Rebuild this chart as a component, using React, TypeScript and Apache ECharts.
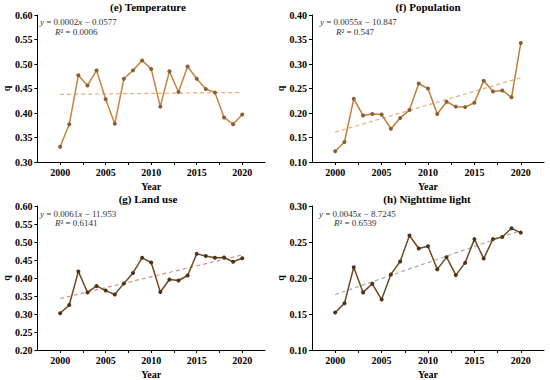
import React, { useEffect, useRef } from "react";
import * as echarts from "echarts";

const years = [2000, 2001, 2002, 2003, 2004, 2005, 2006, 2007, 2008, 2009, 2010, 2011, 2012, 2013, 2014, 2015, 2016, 2017, 2018, 2019, 2020];
const tempQ = [0.331, 0.377, 0.477, 0.456, 0.487, 0.428, 0.378, 0.470, 0.487, 0.507, 0.490, 0.413, 0.485, 0.443, 0.495, 0.470, 0.449, 0.442, 0.391, 0.377, 0.397];
const popQ = [0.122, 0.141, 0.229, 0.195, 0.198, 0.197, 0.168, 0.190, 0.206, 0.260, 0.250, 0.198, 0.223, 0.213, 0.212, 0.221, 0.266, 0.244, 0.246, 0.232, 0.343];
const landQ = [0.302, 0.325, 0.418, 0.360, 0.378, 0.365, 0.354, 0.385, 0.414, 0.456, 0.443, 0.361, 0.396, 0.393, 0.407, 0.467, 0.461, 0.456, 0.457, 0.445, 0.455];
const lightQ = [0.152, 0.165, 0.215, 0.180, 0.192, 0.170, 0.205, 0.223, 0.259, 0.241, 0.244, 0.212, 0.229, 0.204, 0.221, 0.254, 0.227, 0.254, 0.257, 0.269, 0.263];

const trendYears = [2000, 2020];
const tempTrend = [0.438, 0.442];
const popTrend = [0.161, 0.272];
const landTrend = [0.343, 0.464];
const lightTrend = [0.177, 0.266];

const titles = ["(e) Temperature", "(f) Population", "(g) Land use", "(h) Nighttime light"];
const equations = ["{i|y} = 0.0002{i|x} \u2212 0.0577", "{i|y} = 0.0055{i|x} \u2212 10.847", "{i|y} = 0.0061{i|x} \u2212 11.953", "{i|y} = 0.0045{i|x} \u2212 8.7245"];
const r2Texts = ["{i|R}\u00b2 = 0.0006", "{i|R}\u00b2 = 0.547", "{i|R}\u00b2 = 0.6141", "{i|R}\u00b2 = 0.6539"];
const yMins = [0.3, 0.1, 0.2, 0.1];
const yMaxs = [0.6, 0.4, 0.6, 0.3];

const FONT = "'Liberation Serif', 'Times New Roman', serif";

export default function App() {
  const ref = useRef<HTMLDivElement>(null);
  useEffect(() => {
    if (!ref.current) return;
    const chart = echarts.init(ref.current, undefined, { renderer: "svg" });

    const grids = [
      { left: 33, top: 15, width: 232, height: 147 },
      { left: 312, top: 15, width: 232, height: 147 },
      { left: 33, top: 206, width: 232, height: 148 },
      { left: 312, top: 206, width: 232, height: 147 },
    ];
    const series = [tempQ, popQ, landQ, lightQ];
    const trends = [tempTrend, popTrend, landTrend, lightTrend];
    const lineColors = ["#c4843f", "#c07d3a", "#6e4a22", "#6e4a22"];
    const markerColors = ["#8b5e34", "#8b5e34", "#4f3216", "#4f3216"];
    const trendColors = ["#e8ac7a", "#e8ac7a", "#d99088", "#a8a8a8"];

    const axisLabel = { fontFamily: FONT, fontWeight: "bold", fontSize: 10, color: "#000" };
    const axisLine = { lineStyle: { color: "#000", width: 1 } };

    const xAxis = grids.map((_, i) => ({
      type: "value",
      gridIndex: i,
      min: 1997.5,
      max: 2022.5,
      interval: 2.5,
      name: "Year",
      nameLocation: "middle",
      nameGap: 19,
      nameTextStyle: { fontFamily: FONT, fontWeight: "bold", fontSize: 10, color: "#000" },
      axisLine,
      axisTick: { show: true, inside: false, length: 3, lineStyle: { color: "#000" } },
      axisLabel: {
        ...axisLabel,
        margin: 5,
        showMinLabel: false,
        showMaxLabel: false,
        formatter: (v: number) => (v % 5 === 0 ? String(v) : ""),
      },
      splitLine: { show: false },
    }));

    const yAxis = grids.map((_, i) => ({
      type: "value",
      gridIndex: i,
      min: yMins[i],
      max: yMaxs[i],
      interval: 0.05,
      name: "q",
      nameLocation: "middle",
      nameGap: 25,
      nameTextStyle: { fontFamily: FONT, fontWeight: "bold", fontSize: 10, color: "#000" },
      axisLine: { show: true, ...axisLine },
      axisTick: { show: true, inside: false, length: 3, lineStyle: { color: "#000" } },
      axisLabel: { ...axisLabel, margin: 5, formatter: (v: number) => v.toFixed(2) },
      splitLine: { show: false },
    }));

    const allSeries: any[] = [];
    series.forEach((vals, i) => {
      allSeries.push({
        type: "line",
        xAxisIndex: i,
        yAxisIndex: i,
        data: trendYears.map((y, k) => [y, trends[i][k]]),
        symbol: "none",
        lineStyle: { color: trendColors[i], width: 1.2, type: [4, 3] },
        z: 1,
      });
      allSeries.push({
        type: "line",
        xAxisIndex: i,
        yAxisIndex: i,
        data: years.map((y, k) => [y, vals[k]]),
        symbol: "circle",
        symbolSize: 4,
        lineStyle: { color: lineColors[i], width: 1.5 },
        itemStyle: { color: markerColors[i] },
        z: 2,
      });
    });

    const graphic: any[] = [];
    const titlePos = [
      [148, 7],
      [428, 7],
      [148, 199],
      [427, 199],
    ];
    const eqPos = [
      [40, 22],
      [320, 22],
      [40, 214],
      [319, 214],
    ];
    const r2Pos = [
      [55, 32],
      [336, 32],
      [55, 223],
      [334, 223],
    ];
    for (let i = 0; i < 4; i++) {
      graphic.push({
        type: "text",
        x: titlePos[i][0],
        y: titlePos[i][1],
        style: {
          text: titles[i],
          fontFamily: FONT,
          fontWeight: "bold",
          fontSize: 11,
          fill: "#000",
          textAlign: "center",
          textVerticalAlign: "middle",
        },
      });
      graphic.push({
        type: "text",
        x: eqPos[i][0],
        y: eqPos[i][1],
        style: {
          text: equations[i],
          fontFamily: FONT,
          fontSize: 9,
          fill: "#333",
          textAlign: "left",
          textVerticalAlign: "middle",
          rich: { i: { fontStyle: "italic", fontFamily: FONT, fontSize: 9, fill: "#333" } },
        },
      });
      graphic.push({
        type: "text",
        x: r2Pos[i][0],
        y: r2Pos[i][1],
        style: {
          text: r2Texts[i],
          fontFamily: FONT,
          fontSize: 9,
          fill: "#333",
          textAlign: "left",
          textVerticalAlign: "middle",
          rich: { i: { fontStyle: "italic", fontFamily: FONT, fontSize: 9, fill: "#333" } },
        },
      });
    }

    chart.setOption({
      animation: false,
      backgroundColor: "#fff",
      grid: grids,
      xAxis,
      yAxis,
      series: allSeries,
      graphic,
    });
    return () => chart.dispose();
  }, []);
  return (
    <div
      ref={ref}
      style={{ position: "fixed", left: 0, top: 0, width: 550, height: 380, background: "#fff" }}
    />
  );
}
